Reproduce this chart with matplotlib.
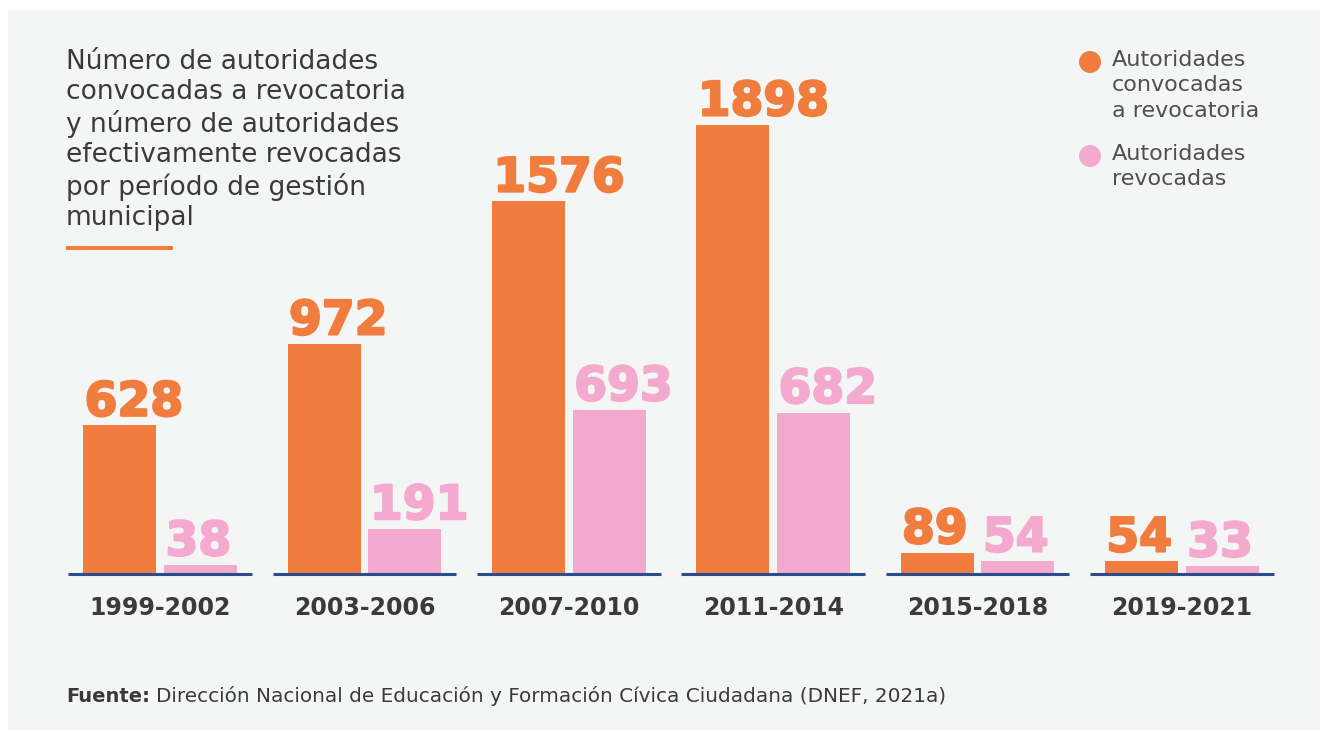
import matplotlib
matplotlib.use("Agg")
import matplotlib.pyplot as plt
from matplotlib.patches import Rectangle, Ellipse
import matplotlib.patheffects as pe
import numpy as np

W, H = 1322, 731
ORANGE = "#F07D3D"
PINK = "#F4A9CF"
BLUE = "#2C4C8E"
DARK = "#3A3A3A"
GRAY = "#4F4F4F"
PANEL = "#F4F6F5"

periods = ["1999-2002", "2003-2006", "2007-2010", "2011-2014", "2015-2018", "2019-2021"]
convocadas = [628, 972, 1576, 1898, 89, 54]
revocadas = [38, 191, 693, 682, 54, 33]


def fx(x):
    return x / W


def fy(y):
    return 1 - y / H


fig = plt.figure(figsize=(W / 100, H / 100), dpi=100)
fig.patch.set_facecolor("white")
fig.add_artist(Rectangle((fx(8), fy(730)), fx(1312), 720 / H, transform=fig.transFigure,
                         facecolor=PANEL, edgecolor="none", zorder=0))

# axes: baseline at y=574 px, group centres 160 .. 1181 px
left, right = 58, 1284
top, base = 10, 574
ax = fig.add_axes([fx(left), fy(base), fx(right - left), (base - top) / H])
ax.set_facecolor("none")
ax.set_xlim(-0.5, 5.5)
ax.set_ylim(0, (base - top) / 0.2365)
for s in ax.spines.values():
    s.set_visible(False)
ax.set_yticks([])

x = np.arange(len(periods))
bw = 0.357
off = 0.198
ax.bar(x - off, convocadas, bw, color=ORANGE, zorder=2)
ax.bar(x + off, revocadas, bw, color=PINK, zorder=2)
ax.hlines(np.zeros(len(x)), x - 0.45, x + 0.45, color=BLUE, lw=2.2, zorder=3, clip_on=False)

for i in range(len(periods)):
    for val, xpos, col in [(convocadas[i], x[i] - off - bw / 2, ORANGE),
                           (revocadas[i], x[i] + off - bw / 2, PINK)]:
        ax.annotate(str(val), (xpos, val), xytext=(1, 7),
                    textcoords="offset points", ha="left", va="baseline",
                    fontsize=34, fontweight="heavy", color=col,
                    path_effects=[pe.withStroke(linewidth=1.6, foreground=col)])

ax.set_xticks(x)
ax.set_xticklabels(periods, fontsize=17, fontweight="bold", color=DARK)
ax.tick_params(axis="x", length=0, pad=16)

# title
title = ("Número de autoridades\nconvocadas a revocatoria\ny número de autoridades\n"
         "efectivamente revocadas\npor período de gestión\nmunicipal")
fig.text(fx(66), fy(49), title, ha="left", va="top", fontsize=19, color=DARK,
         linespacing=1.21)
fig.add_artist(Rectangle((fx(66), fy(250)), fx(107), 4 / H, transform=fig.transFigure,
                         facecolor=ORANGE, edgecolor="none"))

# legend
for cy, col, lab in [(62, ORANGE, "Autoridades\nconvocadas\na revocatoria"),
                     (156, PINK, "Autoridades\nrevocadas")]:
    fig.add_artist(Ellipse((fx(1090), fy(cy)), 22 / W, 22 / H, transform=fig.transFigure,
                           facecolor=col, edgecolor="none"))
    fig.text(fx(1112), fy(cy - 12), lab, ha="left", va="top", fontsize=16,
             color=GRAY, linespacing=1.33)

# source
fig.text(fx(66), fy(696), "Fuente:", ha="left", va="center", fontsize=14,
         fontweight="bold", color=DARK)
fig.text(fx(156), fy(696), "Dirección Nacional de Educación y Formación Cívica Ciudadana (DNEF, 2021a)",
         ha="left", va="center", fontsize=14.4, color=DARK)

fig.savefig("out.png", dpi=100, facecolor="white")
